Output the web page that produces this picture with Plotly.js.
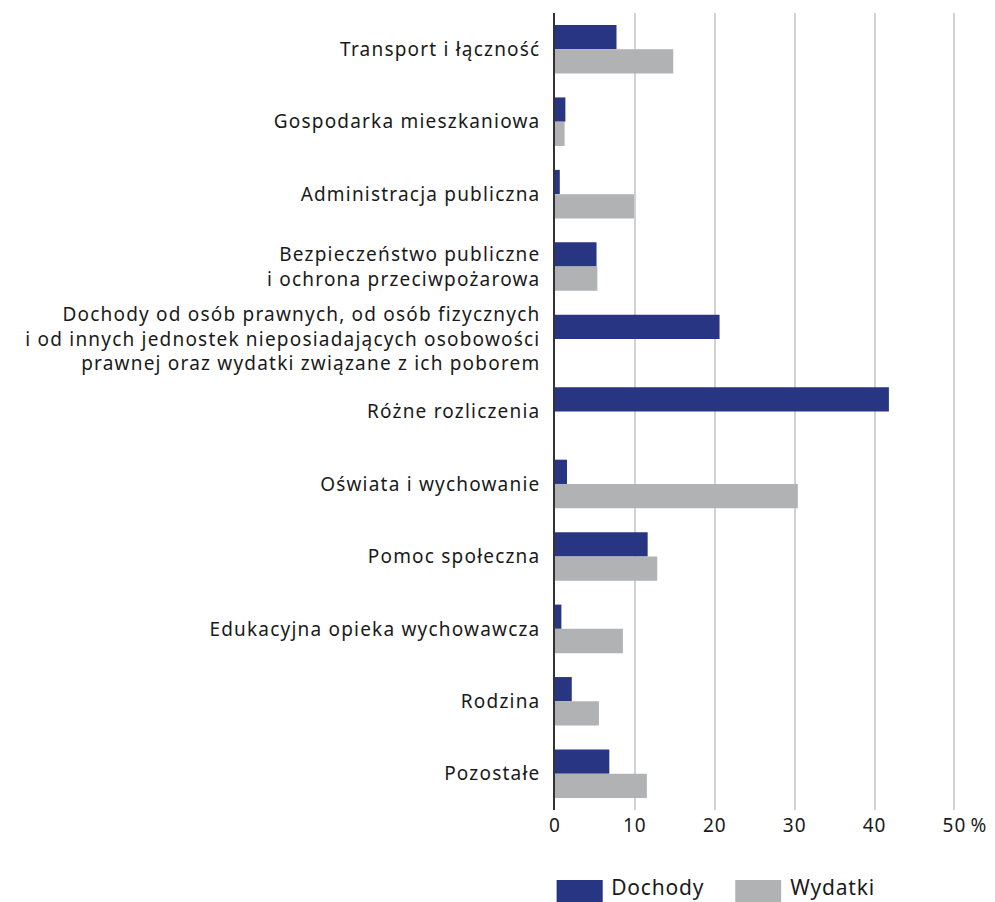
<!DOCTYPE html>
<html>
<head>
<meta charset="utf-8">
<script src="https://cdn.plot.ly/plotly-3.0.1.min.js"></script>
<style>
html,body{margin:0;padding:0;background:#fff;}
#chart{width:995px;height:902px;}
#chart .ytick text{letter-spacing:1.2px;}
#chart .xtick text{letter-spacing:1px;}
#chart .annotation-text{letter-spacing:0.8px;}
</style>
</head>
<body>
<div id="chart"></div>
<script>
const categories = [
  "Transport i łączność",
  "Gospodarka mieszkaniowa",
  "Administracja publiczna",
  "Bezpieczeństwo publiczne<br>i ochrona przeciwpożarowa",
  "Dochody od osób prawnych, od osób fizycznych<br>i od innych jednostek nieposiadających osobowości<br>prawnej oraz wydatki związane z ich poborem",
  "Różne rozliczenia",
  "Oświata i wychowanie",
  "Pomoc społeczna",
  "Edukacyjna opieka wychowawcza",
  "Rodzina",
  "Pozostałe"
];
const dochody = [7.7, 1.3, 0.6, 5.2, 20.6, 41.8, 1.5, 11.6, 0.8, 2.1, 6.8];
const wydatki = [14.8, 1.2, 9.9, 5.3, null, null, 30.4, 12.8, 8.5, 5.5, 11.5];
const tickVals = [0, 10, 20, 30, 40, 50];
const tickText = ["0", "10", "20", "30", "40", "50"];
const unitLabel = "%";
const seriesNames = ["Dochody", "Wydatki"];
const colors = ["#283582", "#b1b2b4"];

const FONT = "Noto Sans, sans-serif";
const TXT = "#1a1a1a";
const traces = [
  {type: "bar", orientation: "h", name: seriesNames[0], y: categories, x: dochody,
   marker: {color: colors[0]}, hoverinfo: "x+y"},
  {type: "bar", orientation: "h", name: seriesNames[1], y: categories, x: wydatki,
   marker: {color: colors[1]}, hoverinfo: "x+y"}
];

const layout = {
  width: 995, height: 902,
  margin: {l: 555, r: 39, t: 13, b: 92, pad: 0},
  paper_bgcolor: "#fff", plot_bgcolor: "#fff",
  font: {family: FONT, size: 19, color: TXT},
  barmode: "group", bargap: 0.33, bargroupgap: 0,
  showlegend: false,
  xaxis: {
    range: [0, 50.2], tickvals: tickVals, ticktext: tickText,
    showgrid: true, gridcolor: "#d2d2d2", gridwidth: 1.5,
    zeroline: false, showline: false, ticks: "", ticklabelstandoff: 2,
    tickfont: {family: FONT, size: 19, color: TXT}, fixedrange: true
  },
  yaxis: {
    type: "category", autorange: "reversed",
    showgrid: false, zeroline: false, showline: true, linecolor: "#333", linewidth: 1.5,
    ticks: "", ticklabelstandoff: 9,
    tickfont: {family: FONT, size: 19, color: TXT}, fixedrange: true
  },
  shapes: [
    {type: "rect", xref: "paper", yref: "paper", x0: 0.004, x1: 0.119, y0: -0.125, y1: -0.0878,
     fillcolor: colors[0], line: {width: 0}},
    {type: "rect", xref: "paper", yref: "paper", x0: 0.4495, x1: 0.564, y0: -0.125, y1: -0.0878,
     fillcolor: colors[1], line: {width: 0}}
  ],
  annotations: [
    {xref: "x", yref: "paper", x: 50, y: 0, xanchor: "left", yanchor: "top", xshift: 15, yshift: 0,
     text: unitLabel, showarrow: false, font: {family: FONT, size: 19, color: TXT}},
    {xref: "paper", yref: "paper", x: 0.142, y: -0.0966, xanchor: "left", yanchor: "middle",
     text: seriesNames[0], showarrow: false, font: {family: FONT, size: 21, color: TXT}},
    {xref: "paper", yref: "paper", x: 0.589, y: -0.0966, xanchor: "left", yanchor: "middle",
     text: seriesNames[1], showarrow: false, font: {family: FONT, size: 21, color: TXT}}
  ]
};

Plotly.newPlot("chart", traces, layout, {displayModeBar: false});
</script>
</body>
</html>
